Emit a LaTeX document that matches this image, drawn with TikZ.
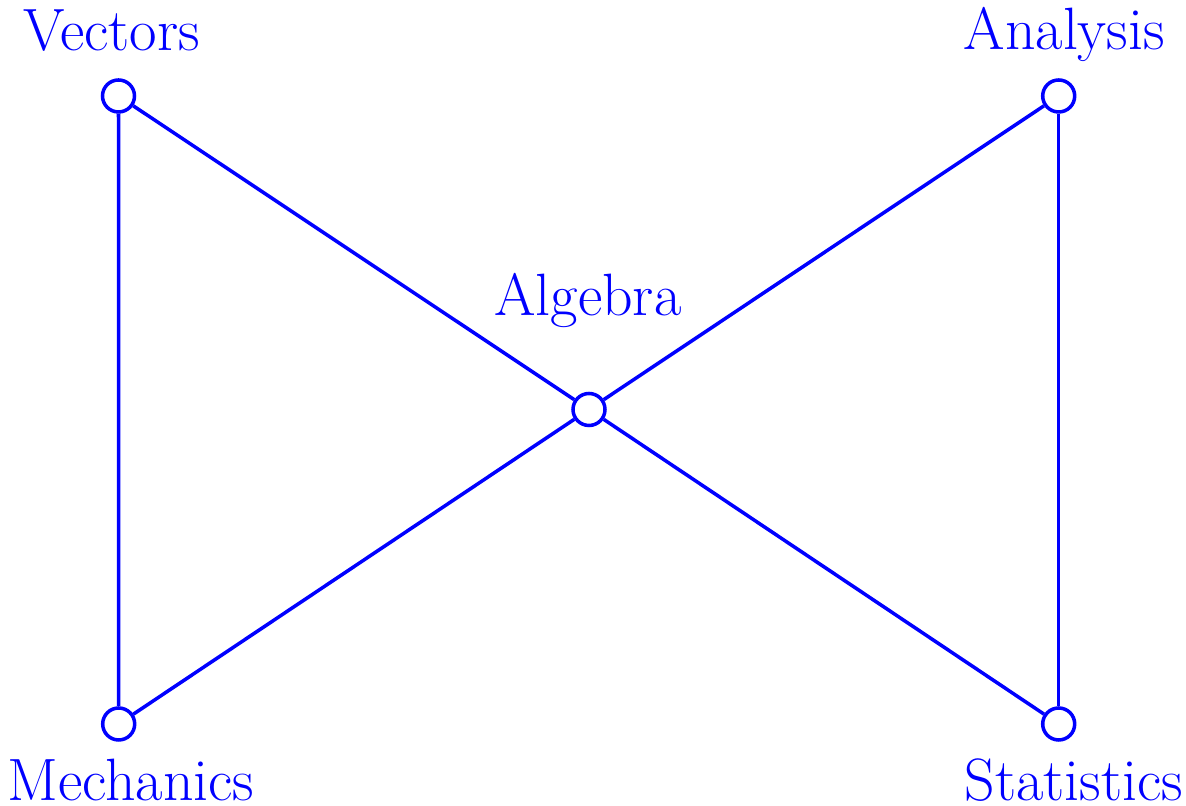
\documentclass[tikz,border=0pt]{standalone}
\usetikzlibrary{positioning}
\begin{document}
\begin{tikzpicture}[
  line width=1pt,
  vertex/.style={circle, draw=blue, fill=white, minimum size=0.32cm, inner sep=0pt},
  link/.style={draw=blue},
  vlabel/.style={font=\fontsize{17}{20}\selectfont, text=blue, anchor=base, inner sep=0pt}
]
  \useasboundingbox (0,0) rectangle (11.86,8.06);

  % positions of the five topics
  \coordinate (vecpos) at (1.185,7.10);
  \coordinate (anapos) at (10.587,7.10);
  \coordinate (algpos) at (5.89,3.965);
  \coordinate (mechpos) at (1.187,0.82);
  \coordinate (statpos) at (10.587,0.82);

  \node[vertex] (vec)  at (vecpos) {};
  \node[vertex] (ana)  at (anapos) {};
  \node[vertex] (alg)  at (algpos) {};
  \node[vertex] (mech) at (mechpos) {};
  \node[vertex] (stat) at (statpos) {};

  \draw[link] (vec) -- (mech);
  \draw[link] (ana) -- (stat);
  \draw[link] (vec) -- (alg);
  \draw[link] (alg) -- (stat);
  \draw[link] (mech) -- (alg);
  \draw[link] (alg) -- (ana);

  % labels
  \node[vlabel] (veclabel)  at ([xshift=-0.07cm,yshift=0.45cm]vec.center) {Vectors};
  \node[vlabel] (analabel)  at ([xshift=0.055cm,yshift=0.46cm]ana.center) {Analysis};
  \node[vlabel] (alglabel)  at ([xshift=-0.01cm,yshift=0.94cm]alg.center) {Algebra};
  \node[vlabel] (mechlabel) at ([xshift=0.12cm,yshift=-0.77cm]mech.center) {Mechanics};
  \node[vlabel] (statlabel) at ([xshift=0.15cm,yshift=-0.77cm]stat.center) {Statistics};
\end{tikzpicture}
\end{document}
